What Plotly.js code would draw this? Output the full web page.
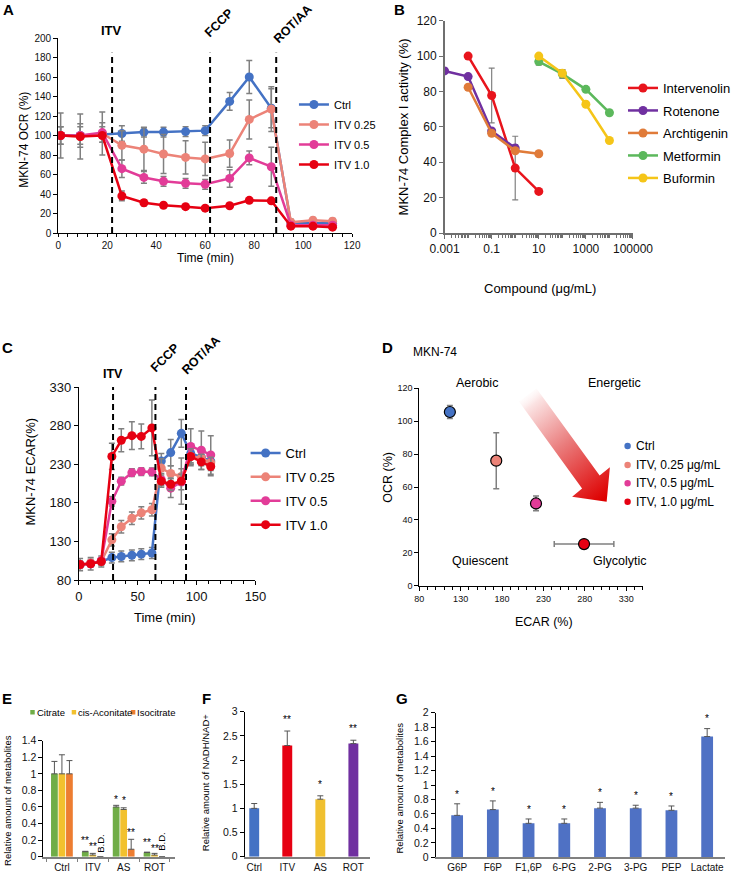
<!DOCTYPE html>
<html><head><meta charset="utf-8">
<script src="https://cdn.plot.ly/plotly-3.0.1.min.js"></script>
<style>html,body{margin:0;padding:0;background:#fff}#chart{width:736px;height:874px}</style>
</head><body><div id="chart"></div>
<script>
// ---------- Panel A : OCR time course ----------
const timeA = [1, 9, 18, 26, 35, 43, 52, 60, 70, 78, 87, 95, 104, 112];
const ocrCtrl   = [100, 100, 101, 102, 103.5, 103.5, 104, 105, 135, 160, 128, 10, 10, 10];
const ocrITV025 = [100, 99, 102, 90, 86, 81, 77.5, 76, 81.5, 116.5, 127, 11, 13, 12];
const ocrITV05  = [100, 100, 103, 66, 57, 53, 51, 50, 56, 77, 68, 8, 8, 8];
const ocrITV10  = [100, 99, 100, 38, 31, 28.5, 27, 25.5, 28, 33.5, 33, 7, 7, 6];
const ocrErrCtrl   = [9, 9, 8, 8, 5, 5, 5, 5, 9, 17, 20, 2, 2, 2];
const ocrErrITV025 = [23, 23, 22, 15, 22, 20, 17, 17, 14, 20, 23, 3, 3, 3];
const ocrErrITV05  = [9, 12, 10, 9, 6, 5, 5, 5, 9, 7, 20, 2, 2, 2];
const ocrErrITV10  = [2, 2, 2, 5, 3, 2, 2, 2, 2, 2, 2, 1, 1, 1];
const injTimesA = [22, 62, 89];
const seriesNames = ['Ctrl', 'ITV 0.25', 'ITV 0.5', 'ITV 1.0'];

// ---------- Panel B : Complex I activity ----------
const concInterv = [0.01, 0.1, 1, 10];     const actInterv = [100, 77.7, 36.7, 23.5]; const errInterv = [0, 15.5, 18, 0];
const concRot    = [0.001, 0.01, 0.1, 1];  const actRot    = [91.6, 88.4, 57.7, 48];  const errRot    = [0, 0, 0, 2];
const concArch   = [0.01, 0.1, 1, 10];     const actArch   = [82.4, 56.4, 46.5, 44.8]; const errArch  = [0, 1.5, 1, 0];
const concMet    = [10, 100, 1000, 10000]; const actMet    = [96.9, 89.9, 81.2, 68];  const errMet    = [2, 2.5, 0, 0];
const concBuf    = [10, 100, 1000, 10000]; const actBuf    = [100, 90.3, 72.8, 52.3]; const errBuf    = [0, 2, 0, 0];
const compoundNames = ['Intervenolin', 'Rotenone', 'Archtigenin', 'Metformin', 'Buformin'];
const logTickVals = [0.001, 0.1, 10, 1000, 100000];
const logTickText = ['0.001', '0.1', '10', '1000', '100000'];

// ---------- Panel C : ECAR time course ----------
const timeC = [1, 10, 19, 28, 36, 45, 53, 62, 70, 78, 87, 95, 104, 112];
const ecarCtrl   = [100, 101, 104, 109, 110.5, 112, 113.5, 115, 234, 245, 270, 244, 239, 234];
const ecarITV025 = [100, 102, 104, 132, 149, 160, 167, 171, 225, 218, 214, 240, 238, 232];
const ecarITV05  = [100, 101, 105, 182, 208, 219, 220.5, 220, 210, 199, 207, 253, 248, 242];
const ecarITV10  = [100, 101, 104, 240, 261, 267, 266, 277, 208, 204, 208, 240, 233, 227];
const ecarErrCtrl   = [8, 8, 7, 7, 7, 7, 7, 7, 10, 17, 18, 12, 10, 10];
const ecarErrITV025 = [5, 5, 5, 8, 8, 8, 8, 8, 12, 10, 10, 12, 10, 10];
const ecarErrITV05  = [3, 3, 3, 6, 5, 5, 5, 5, 8, 12, 10, 23, 25, 25];
const ecarErrITV10  = [3, 3, 3, 17, 15, 18, 16, 36, 8, 8, 30, 10, 10, 12];
const injTimesC = [29, 65, 91];

// ---------- Panel D : energy map ----------
const dLabels  = ['Ctrl', 'ITV, 0.25 μg/mL', 'ITV, 0.5 μg/mL', 'ITV, 1.0 μg/mL'];
const ecarD    = [117, 173, 221, 279];
const ecarDErr = [4, 4, 2, 36];
const ocrD     = [105.6, 76, 50, 25.3];
const ocrDErr  = [4, 17, 4.5, 1];

// ---------- Panel E : TCA metabolites ----------
const eCats = ['Ctrl', 'ITV', 'AS', 'ROT'];
const citrate = [1, 0.06, 0.6, 0.05];  const citrateErr = [0.15, 0.005, 0.02, 0.005];
const cisAcon = [1, 0.02, 0.57, 0.02]; const cisAconErr = [0.23, 0.02, 0.02, 0.02];
const isocit  = [1, 0, 0.09, 0];       const isocitErr  = [0.16, 0, 0.12, 0];
const eNames = ['Citrate', 'cis-Aconitate', 'Isocitrate'];

// ---------- Panel F : NADH/NAD+ ----------
const fCats = ['Ctrl', 'ITV', 'AS', 'ROT'];
const nadRatio = [1.0, 2.3, 1.19, 2.34];
const nadErr = [0.1, 0.3, 0.07, 0.07];
const fStars = ['', '**', '*', '**'];

// ---------- Panel G : glycolytic metabolites ----------
const gCats = ['G6P', 'F6P', 'F1,6P', '6-PG', '2-PG', '3-PG', 'PEP', 'Lactate'];
const glyc = [0.58, 0.66, 0.47, 0.47, 0.68, 0.68, 0.65, 1.67];
const glycErr = [0.16, 0.12, 0.06, 0.06, 0.08, 0.04, 0.06, 0.11];

// ================= styling / layout =================
const W = 736, H = 874;
const FONT = 'Liberation Sans, Arial, sans-serif';
const dx = (a, b) => [a / W, b / W];
const dy = (a, b) => [1 - b / H, 1 - a / H];
const px = x => x / W, py = y => 1 - y / H;

const cA = ['#4472c4', '#ec8378', '#e23c98', '#e60012'];
const cB = ['#e8141c', '#7030a0', '#e07b39', '#5cb85c', '#f5c518'];
const cE = ['#70ad47', '#f2c12e', '#ed7d31'];
const cF = ['#4472c4', '#e60012', '#f0c030', '#7030a0'];
const cG = '#4f71c4';
const GRAY = '#808080';

function ax(extra) {
  return Object.assign({showgrid:false, zeroline:false, showline:true, linecolor:'#000', linewidth:1,
    ticks:'outside', ticklen:4, tickcolor:'#000', tickfont:{size:10, color:'#111'}, fixedrange:true}, extra);
}
const zeros = a => a.map(() => 0);

const traces = [];
// A
[ocrCtrl, ocrITV025, ocrITV05, ocrITV10].forEach((ys, i) => {
  const errs = [ocrErrCtrl, ocrErrITV025, ocrErrITV05, ocrErrITV10][i];
  traces.push({type:'scatter', mode:'lines+markers', x:timeA, y:ys, name:seriesNames[i], xaxis:'x', yaxis:'y',
    line:{color:cA[i], width:2.5}, marker:{color:cA[i], size:9},
    error_y:{type:'data', array:errs, color:GRAY, thickness:1.5, width:3},
    legend:'legend', legendgroup:'a' + i});
});
// B
[[concInterv, actInterv, errInterv], [concRot, actRot, errRot], [concArch, actArch, errArch],
 [concMet, actMet, errMet], [concBuf, actBuf, errBuf]].forEach((s, i) => {
  traces.push({type:'scatter', mode:'lines+markers', x:s[0], y:s[1], name:compoundNames[i], xaxis:'x2', yaxis:'y2',
    line:{color:cB[i], width:2.5}, marker:{color:cB[i], size:9},
    error_y:{type:'data', array:s[2], color:GRAY, thickness:1.2, width:3},
    legend:'legend2', legendgroup:'b' + i});
});
// C
[ecarCtrl, ecarITV025, ecarITV05, ecarITV10].forEach((ys, i) => {
  const errs = [ecarErrCtrl, ecarErrITV025, ecarErrITV05, ecarErrITV10][i];
  traces.push({type:'scatter', mode:'lines+markers', x:timeC, y:ys, name:seriesNames[i], xaxis:'x3', yaxis:'y3',
    line:{color:cA[i], width:2.5}, marker:{color:cA[i], size:9},
    error_y:{type:'data', array:errs, color:GRAY, thickness:1.5, width:3},
    legend:'legend3', legendgroup:'c' + i});
});
// D
traces.push({type:'scatter', mode:'markers', x:ecarD, y:ocrD, xaxis:'x4', yaxis:'y4', showlegend:false,
  marker:{color:cA, size:11, line:{color:'#000', width:1.2}},
  error_x:{type:'data', array:ecarDErr, color:GRAY, thickness:1.5, width:3},
  error_y:{type:'data', array:ocrDErr, color:GRAY, thickness:1.5, width:3}});
// E
[[citrate, citrateErr], [cisAcon, cisAconErr], [isocit, isocitErr]].forEach((s, i) => {
  traces.push({type:'bar', x:eCats, y:s[0], name:eNames[i], xaxis:'x5', yaxis:'y5', showlegend:false,
    marker:{color:cE[i]},
    error_y:{type:'data', symmetric:false, array:s[1], arrayminus:zeros(s[1]), color:'#555', thickness:1, width:3}});
});
// F
traces.push({type:'bar', x:fCats, y:nadRatio, xaxis:'x6', yaxis:'y6', showlegend:false, width:0.3,
  marker:{color:cF},
  error_y:{type:'data', symmetric:false, array:nadErr, arrayminus:zeros(nadErr), color:'#555', thickness:1, width:3}});
// G
traces.push({type:'bar', x:gCats, y:glyc, xaxis:'x7', yaxis:'y7', showlegend:false, width:0.33,
  marker:{color:cG},
  error_y:{type:'data', symmetric:false, array:glycErr, arrayminus:zeros(glycErr), color:'#555', thickness:1, width:3}});

// ---------- shapes ----------
const shapes = [];
injTimesA.forEach(t => shapes.push({type:'line', xref:'x', yref:'y', x0:t, x1:t, y0:0, y1:185,
  line:{color:'#000', width:2, dash:'6px,4px'}}));
injTimesC.forEach(t => shapes.push({type:'line', xref:'x3', yref:'y3', x0:t, x1:t, y0:80, y1:330,
  line:{color:'#000', width:2, dash:'6px,4px'}}));
// D legend dots
const dLegY = [446, 465, 483.3, 501.7];
dLegY.forEach((yy, i) => shapes.push({type:'circle', xref:'paper', yref:'paper',
  x0:px(633), x1:px(639.5), y0:py(yy + 3.2), y1:py(yy - 3.2), fillcolor:cA[i], line:{width:0}}));
// E legend squares
[30.7, 72.7, 132.7].forEach((x0, i) => shapes.push({type:'rect', xref:'paper', yref:'paper',
  x0:px(x0), x1:px(x0 + 4.5), y0:py(714.5), y1:py(710), fillcolor:cE[i], line:{width:0}}));

// ---------- annotations ----------
const ann = [];
function txt(x, y, t, o) {
  ann.push(Object.assign({xref:'paper', yref:'paper', x:px(x), y:py(y), text:t, showarrow:false,
    xanchor:'center', yanchor:'middle', font:{size:12, color:'#000'}}, o || {}));
}
// panel letters
[['A', 9, 9], ['B', 405, 9], ['C', 8, 347], ['D', 393, 347], ['E', 7, 698], ['F', 209, 698], ['G', 408, 698]]
  .forEach(l => txt(l[1], l[2], '<b>' + l[0] + '</b>', {font:{size:15, color:'#000'}}));
// A
txt(113, 30, '<b>ITV</b>', {font:{size:13}});
txt(222, 23, '<b>FCCP</b>', {font:{size:12.5}, textangle:-45});
txt(297, 24, '<b>ROT/AA</b>', {font:{size:12.5}, textangle:-45});
txt(24, 140, 'MKN-74 OCR (%)', {textangle:-90, font:{size:12}});
txt(208, 258, 'Time (min)', {font:{size:12}});
// B
txt(409, 127, 'MKN-74 Complex I activity (%)', {textangle:-90, font:{size:13}});
txt(547, 288, 'Compound (μg/mL)', {font:{size:13}});
// C
txt(115, 374, '<b>ITV</b>', {font:{size:12.5}});
txt(167, 358, '<b>FCCP</b>', {font:{size:12.5}, textangle:-45});
txt(204, 355, '<b>ROT/AA</b>', {font:{size:12.5}, textangle:-45});
txt(30, 472, 'MKN-74 ECAR(%)', {textangle:-90, font:{size:13}});
txt(167, 617, 'Time (min)', {font:{size:13}});
// D
txt(441, 352, 'MKN-74', {font:{size:12}});
txt(484, 383, 'Aerobic', {font:{size:12.5}});
txt(623, 383, 'Energetic', {font:{size:12.5}});
txt(487, 561, 'Quiescent', {font:{size:12.5}});
txt(628, 561, 'Glycolytic', {font:{size:12.5}});
txt(393, 477, 'OCR (%)', {textangle:-90, font:{size:12.5}});
txt(551, 622, 'ECAR (%)', {font:{size:12.5}});
dLegY.forEach((yy, i) => txt(643, yy, dLabels[i], {xanchor:'left', font:{size:12}}));
// E
[[35, 'Citrate'], [77.3, 'cis-Aconitate'], [137.3, 'Isocitrate']].forEach(l =>
  txt(l[0], 712.3, l[1], {xanchor:'left', font:{size:9.5}}));
txt(7, 800, 'Relative amount of metabolites', {textangle:-90, font:{size:9.5}});
const eOff = 0.2433;
[[1 - eOff, 0.20, '**'], [1, 0.125, '**'], [2 - eOff, 0.685, '*'], [2, 0.675, '*'], [2 + eOff, 0.295, '**'],
 [3 - eOff, 0.175, '**'], [3, 0.105, '**']].forEach(s =>
  ann.push({xref:'x5', yref:'y5', x:s[0], y:s[1], text:s[2], showarrow:false, font:{size:10, color:'#000'}}));
[[1 + eOff, 0.16], [3 + eOff, 0.18]].forEach(s =>
  ann.push({xref:'x5', yref:'y5', x:s[0], y:s[1], text:'B.D.', textangle:-90, showarrow:false, font:{size:9.5, color:'#000'}}));
// F
txt(208, 783, 'Relative amount of NADH/NAD+', {textangle:-90, font:{size:9.5}});
fCats.forEach((c, i) => { if (fStars[i]) ann.push({xref:'x6', yref:'y6', x:i, y:nadRatio[i] + nadErr[i] + 0.24,
  text:fStars[i], showarrow:false, font:{size:10, color:'#000'}}); });
// G
txt(405, 788, 'Relative amount of metabolites', {textangle:-90, font:{size:9.5}});
gCats.forEach((c, i) => ann.push({xref:'x7', yref:'y7', x:i, y:glyc[i] + glycErr[i] + 0.135,
  text:'*', showarrow:false, font:{size:10, color:'#000'}}));

// ---------- gradient arrow (panel D) ----------
const arrowSvg = '<svg xmlns="http://www.w3.org/2000/svg" width="736" height="874" viewBox="0 0 736 874">' +
  '<defs><linearGradient id="g" gradientUnits="userSpaceOnUse" x1="530" y1="392" x2="613" y2="498">' +
  '<stop offset="0" stop-color="#ffffff" stop-opacity="0"/><stop offset="0.12" stop-color="#fbe3e3"/>' +
  '<stop offset="0.5" stop-color="#ea7c7c"/><stop offset="1" stop-color="#de0000"/></linearGradient></defs>' +
  '<polygon points="543.9,388.5 607.9,475.5 618.3,467.3 615,501.7 580,496.7 590.1,488.5 526.1,401.5" fill="url(#g)"/></svg>';

// ---------- log minor ticks for B ----------
const minorLog = [];
for (let k = -3; k < 5; k++) for (let m = 2; m <= 9; m++) minorLog.push(m * Math.pow(10, k));
for (let k = -2; k < 5; k += 2) minorLog.push(Math.pow(10, k));

const legBase = {xanchor:'left', yanchor:'top', bgcolor:'rgba(0,0,0,0)', borderwidth:0, traceorder:'grouped', itemwidth:30};

const layout = {
  width:W, height:H, margin:{l:0, r:0, t:0, b:0}, paper_bgcolor:'#fff', plot_bgcolor:'rgba(0,0,0,0)',
  font:{family:FONT, color:'#000', size:11}, showlegend:true,
  barmode:'group', bargap:0.27, bargroupgap:0.1,
  xaxis: ax({domain:dx(59, 357), range:[0, 120], dtick:20, tick0:0, anchor:'y', ticklen:3,
    minor:{dtick:4, ticks:'outside', ticklen:3, tickcolor:'#000'}}),
  yaxis: ax({domain:dy(38, 233), range:[0, 200], dtick:20, anchor:'x'}),
  xaxis2: ax({domain:dx(450.7, 641.7), type:'log', range:[-3, 5], anchor:'y2', tickmode:'array',
    tickvals:logTickVals, ticktext:logTickText, linecolor:'#6f6f6f', linewidth:1.5, tickcolor:'#6f6f6f',
    tickfont:{size:12, color:'#111'}, minor:{tickmode:'array', tickvals:minorLog, ticks:'outside', ticklen:3, tickcolor:'#6f6f6f'}}),
  yaxis2: ax({domain:dy(20.7, 233), range:[0, 120], dtick:20, anchor:'x2', linecolor:'#6f6f6f', linewidth:1.5,
    tickcolor:'#6f6f6f', tickfont:{size:12, color:'#111'}}),
  xaxis3: ax({domain:dx(80, 259), range:[0, 150], dtick:50, anchor:'y3', tickfont:{size:13, color:'#111'},
    minor:{dtick:10, ticks:'outside', ticklen:3, tickcolor:'#000'}}),
  yaxis3: ax({domain:dy(387, 580), range:[80, 330], dtick:50, tick0:80, anchor:'x3', tickfont:{size:13, color:'#111'}}),
  xaxis4: ax({domain:dx(425, 651.7), range:[80, 350], tickmode:'array', tickvals:[80, 130, 180, 230, 280, 330],
    anchor:'y4', tickfont:{size:9, color:'#111'}, minor:{dtick:10, tick0:80, ticks:'outside', ticklen:3, tickcolor:'#000'}}),
  yaxis4: ax({domain:dy(388.3, 585.7), range:[0, 120], dtick:20, anchor:'x4', tickfont:{size:9, color:'#111'}}),
  xaxis5: ax({domain:dx(44, 177), type:'category', range:[-0.6, 3.65], anchor:'y5', linecolor:GRAY, linewidth:2,
    tickson:'boundaries', ticklen:3, tickcolor:GRAY, tickangle:0, tickfont:{size:10, color:'#111'}}),
  yaxis5: ax({domain:dy(740.7, 856.7), range:[0, 1.4], dtick:0.2, anchor:'x5', tickfont:{size:10.5, color:'#111'}}),
  xaxis6: ax({domain:dx(248, 375), type:'category', range:[-0.29, 3.5], anchor:'y6', linecolor:GRAY, linewidth:2,
    ticks:'', tickangle:0, tickfont:{size:10, color:'#111'}}),
  yaxis6: ax({domain:dy(711.7, 856.7), range:[0, 3], dtick:0.5, anchor:'x6', tickfont:{size:10.5, color:'#111'}}),
  xaxis7: ax({domain:dx(441.7, 735), type:'category', range:[-0.6, 7.5], anchor:'y7', linecolor:GRAY, linewidth:1.5,
    ticks:'', tickangle:0, tickfont:{size:10, color:'#111'}}),
  yaxis7: ax({domain:dy(712.7, 857.3), range:[0, 2], dtick:0.2, anchor:'x7', tickfont:{size:10.5, color:'#111'}}),
  legend: Object.assign({}, legBase, {x:px(298), y:py(90), font:{size:11}, tracegroupgap:1}),
  legend2: Object.assign({}, legBase, {x:px(632), y:py(73), font:{size:13}, tracegroupgap:2.6}),
  legend3: Object.assign({}, legBase, {x:px(249), y:py(438), font:{size:13}, tracegroupgap:4}),
  shapes: shapes,
  annotations: ann,
  images: [{source:'data:image/svg+xml;charset=utf-8,' + encodeURIComponent(arrowSvg), xref:'paper', yref:'paper',
    x:0, y:1, sizex:1, sizey:1, xanchor:'left', yanchor:'top', sizing:'stretch', layer:'above'}]
};

Plotly.newPlot('chart', traces, layout, {displayModeBar:false, staticPlot:true});
</script>
</body></html>
